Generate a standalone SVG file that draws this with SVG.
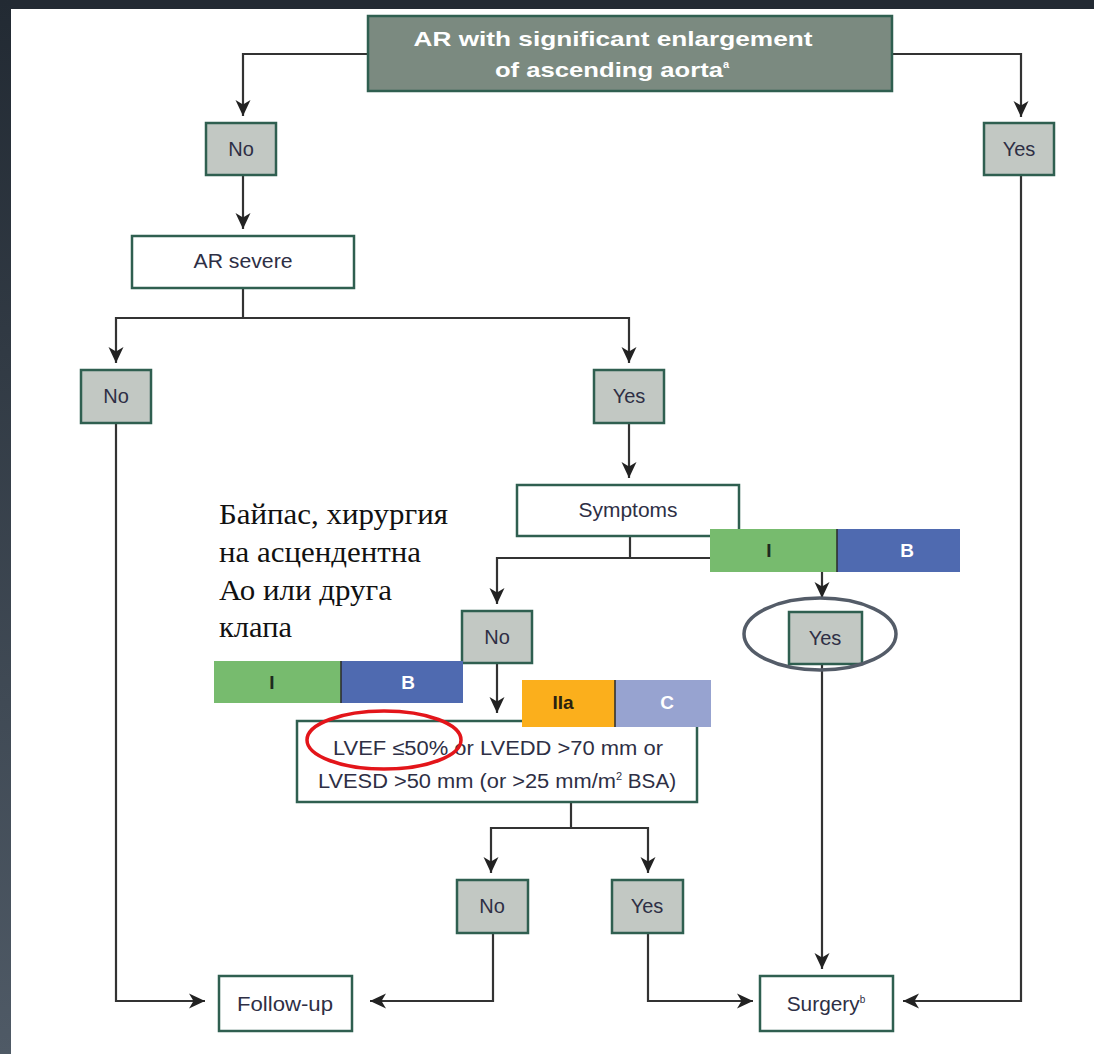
<svg xmlns="http://www.w3.org/2000/svg" width="1094" height="1054" viewBox="0 0 1094 1054">
<defs>
<linearGradient id="side" x1="0" y1="0" x2="0" y2="1">
<stop offset="0" stop-color="#222a33"/>
<stop offset="1" stop-color="#4f5a66"/>
</linearGradient>
<marker id="arr" markerUnits="userSpaceOnUse" markerWidth="17" markerHeight="16" refX="16" refY="8" orient="auto">
<path d="M0,0.5 L16,8 L0,15.5 L4.5,8 Z" fill="#222"/>
</marker>
</defs>
<style>
.bg{fill:#ffffff}
.yn{fill:#c2c8c3;stroke:#2f5f50;stroke-width:2.5}
.wb{fill:#ffffff;stroke:#2f5f50;stroke-width:2.5}
.tb{fill:#7b8a80;stroke:#2f5f50;stroke-width:2.5}
.t{font-family:"Liberation Sans",Arial,sans-serif;font-size:20px;fill:#2e2f45;text-anchor:middle}
.tt{font-family:"Liberation Sans",Arial,sans-serif;font-size:21px;font-weight:bold;fill:#ffffff;text-anchor:middle}
.lb{font-family:"Liberation Sans",Arial,sans-serif;font-size:19px;font-weight:bold;text-anchor:middle}
.ru{font-family:"Liberation Serif","Times New Roman",serif;font-size:29px;fill:#111}
.c{fill:none;stroke:#333;stroke-width:2.2}
.ca{fill:none;stroke:#333;stroke-width:2.2;marker-end:url(#arr)}
</style>
<rect class="bg" x="0" y="0" width="1094" height="1054"/>
<rect x="0" y="0" width="1094" height="9" fill="#232a33"/>
<rect x="0" y="0" width="11" height="1054" fill="url(#side)"/>

<g id="connectors">
<path class="ca" d="M368,54 H243 V116"/>
<path class="ca" d="M892,54 H1021 V117"/>
<path class="ca" d="M243,175 V229"/>
<path class="c" d="M243,288 V318"/>
<path class="ca" d="M243,318 H116 V363"/>
<path class="ca" d="M243,318 H629 V363"/>
<path class="ca" d="M629,423 V478"/>
<path class="c" d="M630,536 V558"/>
<path class="ca" d="M630,558 H497 V604"/>
<path class="ca" d="M630,558 H822 V598"/>
<path class="ca" d="M497,663 V713"/>
<path class="c" d="M571,802 V828"/>
<path class="ca" d="M571,828 H491 V873"/>
<path class="ca" d="M571,828 H648 V873"/>
<path class="ca" d="M116,423 V1001 H205"/>
<path class="ca" d="M493,933 V1001 H370"/>
<path class="ca" d="M648,933 V1001 H753"/>
<path class="ca" d="M822,664 V969"/>
<path class="ca" d="M1021,175 V1001 H903"/>
</g>

<g id="title">
<rect class="tb" x="368" y="16" width="524" height="75"/>
<text class="tt" x="613" y="46" textLength="399" lengthAdjust="spacingAndGlyphs">AR with significant enlargement</text>
<text class="tt" x="612" y="77"><tspan textLength="228" lengthAdjust="spacingAndGlyphs">of ascending aorta</tspan><tspan font-size="11" dy="-9">a</tspan></text>
</g>

<g id="no1">
<rect class="yn" x="206" y="123" width="70" height="52"/>
<text class="t" x="241" y="156">No</text>
</g>
<g id="yes1">
<rect class="yn" x="984" y="123" width="70" height="52"/>
<text class="t" x="1019" y="156">Yes</text>
</g>

<g id="ar-severe">
<rect class="wb" x="132" y="236" width="222" height="52"/>
<text class="t" x="243" y="268" textLength="99" lengthAdjust="spacingAndGlyphs">AR severe</text>
</g>

<g id="no2">
<rect class="yn" x="81" y="370" width="70" height="53"/>
<text class="t" x="116" y="403">No</text>
</g>
<g id="yes2">
<rect class="yn" x="594" y="370" width="70" height="53"/>
<text class="t" x="629" y="403">Yes</text>
</g>

<g id="symptoms">
<rect class="wb" x="517" y="485" width="222" height="51"/>
<text class="t" x="628" y="517" textLength="99" lengthAdjust="spacingAndGlyphs">Symptoms</text>
</g>

<g id="note">
<text class="ru" x="219" y="524" textLength="229" lengthAdjust="spacingAndGlyphs">Байпас, хирургия</text>
<text class="ru" x="219" y="562" textLength="202" lengthAdjust="spacingAndGlyphs">на асцендентна</text>
<text class="ru" x="219" y="600" textLength="173" lengthAdjust="spacingAndGlyphs">Ао или друга</text>
<text class="ru" x="219" y="637" textLength="73" lengthAdjust="spacingAndGlyphs">клапа</text>
</g>

<g id="label-IB-1">
<rect x="710" y="529" width="127" height="43" fill="#77bb6e"/>
<rect x="837" y="529" width="123" height="43" fill="#4f6ab0"/>
<line x1="837" y1="529" x2="837" y2="572" stroke="#2a2a2a" stroke-width="1.5"/>
<text class="lb" x="769" y="557" fill="#1e2a1e">I</text>
<text class="lb" x="907" y="557" fill="#ffffff">B</text>
</g>

<g id="no3">
<rect class="yn" x="462" y="611" width="70" height="52"/>
<text class="t" x="497" y="644">No</text>
</g>
<g id="yes3">
<rect class="yn" x="789" y="612" width="73" height="52"/>
<text class="t" x="825" y="645">Yes</text>
</g>
<ellipse id="highlight-yes" cx="820" cy="634" rx="76" ry="36" fill="none" stroke="#545c68" stroke-width="3.5"/>

<g id="label-IB-2">
<rect x="214" y="661" width="127" height="42" fill="#77bb6e"/>
<rect x="341" y="661" width="122" height="42" fill="#4f6ab0"/>
<line x1="341" y1="661" x2="341" y2="703" stroke="#2a2a2a" stroke-width="1.5"/>
<text class="lb" x="272" y="689" fill="#1e2a1e">I</text>
<text class="lb" x="408" y="689" fill="#ffffff">B</text>
</g>

<g id="lvef">
<rect class="wb" x="297" y="721" width="400" height="81"/>
<text class="t" x="498" y="755" textLength="330" lengthAdjust="spacingAndGlyphs">LVEF ≤50% or LVEDD &gt;70 mm or</text>
<text class="t" x="497" y="788"><tspan textLength="298" lengthAdjust="spacingAndGlyphs">LVESD &gt;50 mm (or &gt;25 mm/m</tspan><tspan font-size="11" dy="-8">2</tspan><tspan dy="8" textLength="54" lengthAdjust="spacingAndGlyphs"> BSA)</tspan></text>
</g>

<g id="label-IIaC">
<rect x="522" y="680" width="93" height="47" fill="#fbaf1c"/>
<rect x="615" y="680" width="96" height="47" fill="#97a3d0"/>
<line x1="615" y1="680" x2="615" y2="727" stroke="#2a2a2a" stroke-width="1.5"/>
<text class="lb" x="563" y="709" fill="#2a2110">IIa</text>
<text class="lb" x="667" y="709" fill="#ffffff">C</text>
</g>
<ellipse id="highlight-lvef" cx="384" cy="740" rx="77" ry="29" fill="none" stroke="#e3151a" stroke-width="3.5"/>

<g id="no4">
<rect class="yn" x="457" y="880" width="71" height="53"/>
<text class="t" x="492" y="913">No</text>
</g>
<g id="yes4">
<rect class="yn" x="612" y="880" width="71" height="53"/>
<text class="t" x="647" y="913">Yes</text>
</g>

<g id="follow-up">
<rect class="wb" x="219" y="976" width="133" height="55"/>
<text class="t" x="285" y="1011" textLength="96" lengthAdjust="spacingAndGlyphs">Follow-up</text>
</g>
<g id="surgery">
<rect class="wb" x="760" y="976" width="133" height="55"/>
<text class="t" x="826" y="1011"><tspan textLength="73" lengthAdjust="spacingAndGlyphs">Surgery</tspan><tspan font-size="10" dy="-8">b</tspan></text>
</g>
</svg>
